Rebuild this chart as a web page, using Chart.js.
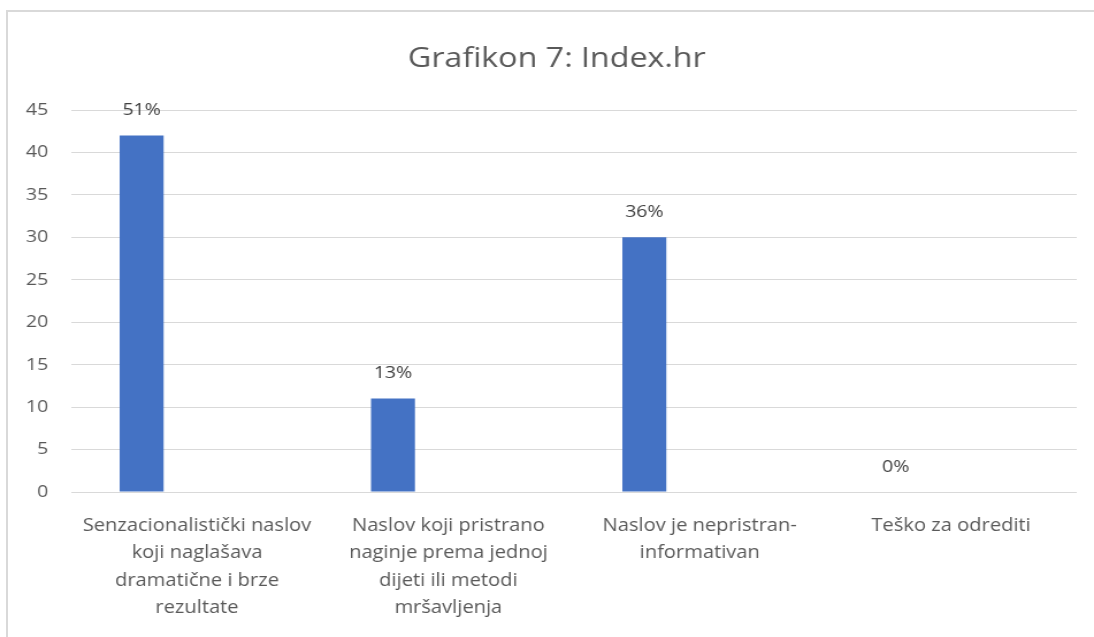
<!DOCTYPE html>
<html>
<head>
<meta charset="utf-8">
<script src="https://cdn.jsdelivr.net/npm/chart.js@4"></script>
<style>
  html, body { margin: 0; padding: 0; background: #ffffff; }
  #wrap { position: absolute; left: 0; top: 0; width: 1094px; height: 637px; overflow: hidden; }
  #frame { position: absolute; left: 6px; top: 10px; width: 1088px; height: 627px;
           border-top: 2px solid #d9d9d9; border-left: 2px solid #d9d9d9; box-sizing: border-box; }
  canvas { position: absolute; left: 0; top: 0; }
</style>
</head>
<body>
<div id="wrap">
  <div id="frame"></div>
  <canvas id="c" width="951" height="637" style="width:1094px;height:637px;"></canvas>
</div>
<script>
const titleText = "Grafikon 7: Index.hr";
const categories = [
  ["Senzacionalistički naslov", "koji naglašava", "dramatične i brze", "rezultate"],
  ["Naslov koji pristrano", "naginje prema jednoj", "dijeti ili metodi", "mršavljenja"],
  ["Naslov je nepristran-", "informativan"],
  ["Teško za odrediti"]
];
const counts = [42, 11, 30, 0];
const percentLabels = ["51%", "13%", "36%", "0%"];
const emptySeries = [null, null, null, null];
const yTicks = [0, 5, 10, 15, 20, 25, 30, 35, 40, 45];

const FONT = "'Open Sans', 'Liberation Sans', sans-serif";
const TEXT = "#595959";

const labelPlugin = {
  id: "pctLabels",
  afterDatasetsDraw(chart) {
    const ctx = chart.ctx;
    const meta = chart.getDatasetMeta(0);
    ctx.save();
    ctx.font = "17px " + FONT;
    ctx.fillStyle = "#404040";
    ctx.textAlign = "center";
    ctx.textBaseline = "middle";
    meta.data.forEach((bar, i) => {
      ctx.fillText(percentLabels[i], bar.x, bar.y - 25);
    });
    ctx.restore();
  }
};

const titlePlugin = {
  id: "offsetTitle",
  afterDraw(chart) {
    const ctx = chart.ctx;
    ctx.save();
    ctx.font = "28px " + FONT;
    ctx.fillStyle = TEXT;
    ctx.textAlign = "center";
    ctx.textBaseline = "alphabetic";
    ctx.fillText(titleText, 484, 67);
    ctx.restore();
  }
};

new Chart(document.getElementById("c"), {
  type: "bar",
  data: {
    labels: categories,
    datasets: [
      { label: "Broj", data: counts, backgroundColor: "#4472c4", borderWidth: 0 },
      { label: "", data: emptySeries, backgroundColor: "#ed7d31", borderWidth: 0 }
    ]
  },
  options: {
    responsive: false,
    animation: false,
    devicePixelRatio: 1,
    layout: { padding: { left: 9, right: 15, top: 110, bottom: 0 } },
    datasets: { bar: { categoryPercentage: 0.881, barPercentage: 0.397 } },
    plugins: {
      legend: { display: false },
      tooltip: { enabled: false },
      title: { display: false }
    },
    scales: {
      x: {
        grid: { display: false, drawTicks: false },
        border: { display: false },
        ticks: { color: TEXT, font: { family: FONT, size: 17.5, lineHeight: 1.57 }, padding: 20, maxRotation: 0, autoSkip: false },
        afterFit(scale) { scale.height = 145; }
      },
      y: {
        min: 0, max: 45,
        afterBuildTicks(scale) { scale.ticks = yTicks.map(v => ({ value: v })); },
        grid: { color: "#d9d9d9", lineWidth: 1, drawTicks: false },
        border: { display: false },
        ticks: { color: TEXT, font: { family: FONT, size: 17 }, padding: 20 },
        afterFit(scale) { scale.width = 53; }
      }
    }
  },
  plugins: [labelPlugin, titlePlugin]
});
</script>
</body>
</html>
